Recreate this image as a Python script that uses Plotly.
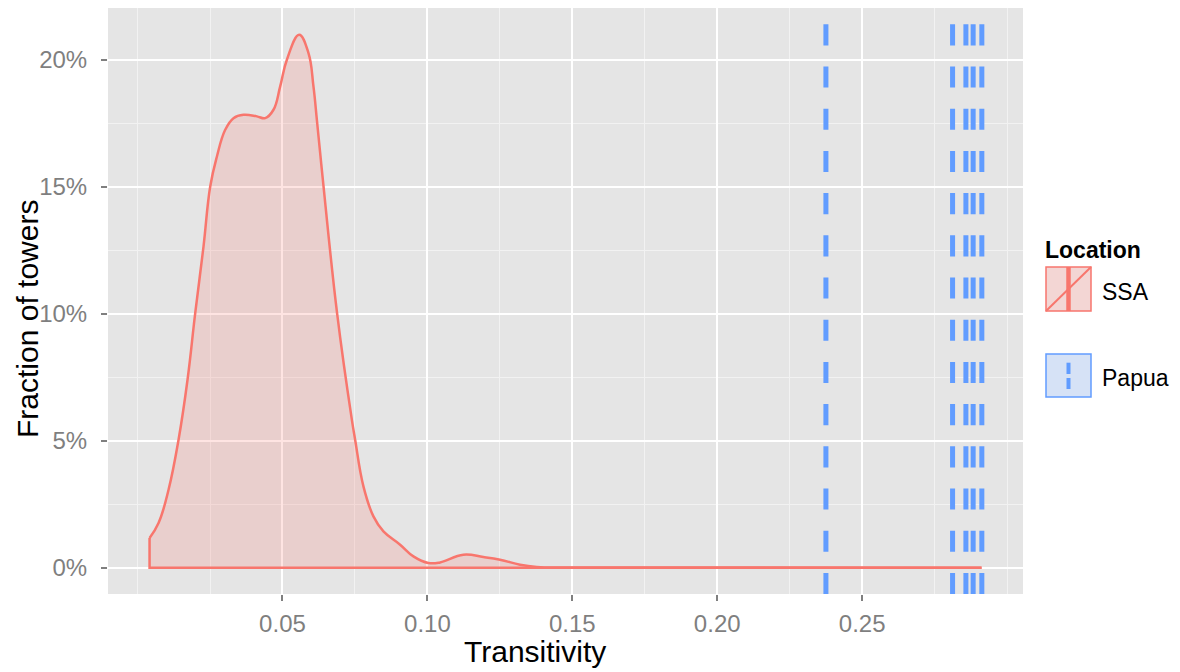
import plotly.graph_objects as go

# ---------------- data ----------------
ssa_x = [0.00414, 0.00724, 0.01069, 0.01414, 0.01724, 0.01990, 0.02276, 0.02507,
         0.02738, 0.03024, 0.03310, 0.03655, 0.04117, 0.04403, 0.04690, 0.04921,
         0.05152, 0.05576, 0.05897, 0.06069, 0.06186, 0.06300, 0.06393, 0.06886,
         0.07393, 0.07507, 0.07793, 0.08138, 0.08483, 0.09059, 0.09517, 0.10034,
         0.10438, 0.11241, 0.11931, 0.12507, 0.13197, 0.13772, 0.14231, 0.2912]
ssa_y = [0.0117, 0.0176, 0.0307, 0.0504, 0.0740, 0.1003, 0.1265, 0.1501,
         0.1619, 0.1724, 0.1770, 0.1783, 0.1777, 0.1770, 0.1803, 0.1895,
         0.2000, 0.2098, 0.2026, 0.1895, 0.1764, 0.1633, 0.1528, 0.1000,
         0.0583, 0.0504, 0.0320, 0.0202, 0.0143, 0.00906, 0.00445, 0.00185,
         0.00209, 0.00512, 0.00421, 0.00315, 0.00118, 0.00028, 0.0001, 0.0]

papua_x = [0.2375, 0.2812, 0.2858, 0.2883, 0.2913]

x_ticks = [0.05, 0.10, 0.15, 0.20, 0.25]
x_tick_labels = ["0.05", "0.10", "0.15", "0.20", "0.25"]
x_minor = [0.0, 0.025, 0.075, 0.125, 0.175, 0.225, 0.275, 0.30]
y_ticks = [0.0, 0.05, 0.10, 0.15, 0.20]
y_tick_labels = ["0%", "5%", "10%", "15%", "20%"]
y_minor = [0.025, 0.075, 0.125, 0.175]

RED = "#F8766D"
BLUE = "#619CFF"
GREY_TXT = "#7F7F7F"
FONT = "Liberation Sans, Arial, sans-serif"

# ---------------- layout geometry (pixels) ----------------
W, H = 1180, 672
PL, PR, PT, PB = 108, 1023, 8, 594   # panel edges


def px(xp):
    return (xp - PL) / (PR - PL)


def py(yp):
    return (PB - yp) / (PB - PT)


fig = go.Figure()

# density fill + curve
fig.add_trace(go.Scatter(
    x=ssa_x, y=ssa_y, mode="lines",
    line=dict(color=RED, width=2.5, shape="spline", smoothing=1.2),
    fill="tozeroy", fillcolor="rgba(248,118,109,0.2)",
    showlegend=False, hoverinfo="skip"))
# vertical start edge and bottom outline
fig.add_trace(go.Scatter(
    x=[ssa_x[-1], ssa_x[0], ssa_x[0]], y=[0, 0, ssa_y[0]], mode="lines",
    line=dict(color=RED, width=2.5), showlegend=False, hoverinfo="skip"))

shapes = []
for v in papua_x:
    shapes.append(dict(type="line", xref="x", yref="y domain", x0=v, x1=v, y0=0, y1=1,
                       line=dict(color=BLUE, width=5, dash="21.1px,21.1px"), layer="above"))

# ---- manual legend ----
kx0, kx1 = 1046, 1091
shapes.append(dict(type="rect", xref="paper", yref="paper",
                   x0=px(kx0), x1=px(kx1), y0=py(311), y1=py(267),
                   fillcolor="#F3D6D4", line=dict(color=RED, width=1.5)))
shapes.append(dict(type="line", xref="paper", yref="paper",
                   x0=px(kx0), x1=px(kx1), y0=py(311), y1=py(267),
                   line=dict(color=RED, width=2)))
shapes.append(dict(type="line", xref="paper", yref="paper",
                   x0=px(1068.5), x1=px(1068.5), y0=py(311), y1=py(267),
                   line=dict(color=RED, width=4.5)))
shapes.append(dict(type="rect", xref="paper", yref="paper",
                   x0=px(kx0), x1=px(kx1), y0=py(397), y1=py(354),
                   fillcolor="#D6E2F6", line=dict(color=BLUE, width=1.5)))
for a, b in [(362.7, 374), (378, 389)]:
    shapes.append(dict(type="line", xref="paper", yref="paper",
                       x0=px(1068.5), x1=px(1068.5), y0=py(b), y1=py(a),
                       line=dict(color=BLUE, width=4)))

annotations = [
    dict(text="<b>Location</b>", xref="paper", yref="paper", x=px(1043), y=py(250),
         xanchor="left", yanchor="middle", showarrow=False,
         font=dict(family=FONT, size=23, color="black")),
    dict(text="SSA", xref="paper", yref="paper", x=px(1100), y=py(292),
         xanchor="left", yanchor="middle", showarrow=False,
         font=dict(family=FONT, size=23, color="black")),
    dict(text="Papua", xref="paper", yref="paper", x=px(1100), y=py(378),
         xanchor="left", yanchor="middle", showarrow=False,
         font=dict(family=FONT, size=23, color="black")),
    dict(text="Transitivity", xref="paper", yref="paper", x=px(535), y=py(651),
         xanchor="center", yanchor="middle", showarrow=False,
         font=dict(family=FONT, size=30, color="black")),
    dict(text="Fraction of towers", xref="paper", yref="paper", x=px(27), y=py(319),
         xanchor="center", yanchor="middle", showarrow=False, textangle=-90,
         font=dict(family=FONT, size=30, color="black")),
]

fig.update_layout(
    width=W, height=H,
    margin=dict(l=PL, r=W - PR, t=PT, b=H - PB, pad=0),
    paper_bgcolor="white", plot_bgcolor="#E5E5E5",
    showlegend=False,
    shapes=shapes, annotations=annotations,
    font=dict(family=FONT),
    xaxis=dict(range=[-0.0102, 0.3055], tickvals=x_ticks, ticktext=x_tick_labels,
               showgrid=True, gridcolor="white", gridwidth=2, zeroline=False,
               ticks="outside", ticklen=6, tickwidth=2, tickcolor=GREY_TXT,
               ticklabelstandoff=2,
               tickfont=dict(family=FONT, size=24, color=GREY_TXT),
               minor=dict(tickvals=x_minor, showgrid=True, gridcolor="#F2F2F2",
                          gridwidth=1, ticks=""),
               showline=False, fixedrange=True),
    yaxis=dict(range=[-0.01035, 0.22036], tickvals=y_ticks, ticktext=y_tick_labels,
               showgrid=True, gridcolor="white", gridwidth=2, zeroline=False,
               ticks="outside", ticklen=6, tickwidth=2, tickcolor=GREY_TXT,
               ticklabelstandoff=9,
               tickfont=dict(family=FONT, size=24, color=GREY_TXT),
               minor=dict(tickvals=y_minor, showgrid=True, gridcolor="#F2F2F2",
                          gridwidth=1, ticks=""),
               showline=False, fixedrange=True),
)

fig.write_html("out.html")
